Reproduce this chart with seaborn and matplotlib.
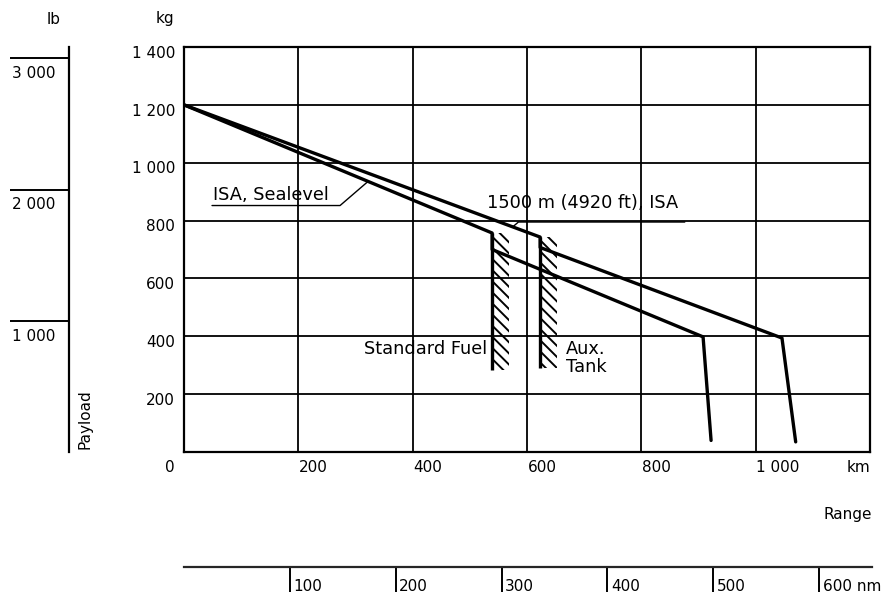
import numpy as np
import pandas as pd
import seaborn as sns
import matplotlib.pyplot as plt
from matplotlib.transforms import offset_copy

KG_PER_LB = 0.45359
KM_PER_NM = 1.852

# payload-range curves (km, kg)
sea_km = [0, 539, 539, 908, 922]
sea_kg = [1200, 757, 700, 398, 40]
alt_km = [0, 623, 623, 1046, 1070]
alt_kg = [1200, 743, 707, 394, 35]

# fuel limits (km) and hatch extents (kg)
std_km, std_top, std_bot = 539, 757, 283
aux_km, aux_top, aux_bot = 623, 743, 290

km_ticks = [0, 200, 400, 600, 800, 1000, 1200]
km_labels = ['0', '200', '400', '600', '800', '1 000', 'km']
kg_ticks = [200, 400, 600, 800, 1000, 1200, 1400]
kg_labels = ['200', '400', '600', '800', '1 000', '1 200', '1 400']
lb_ticks = [1000, 2000, 3000]
lb_labels = ['1 000', '2 000', '3 000']
nm_ticks = [100, 200, 300, 400, 500, 600]
nm_labels = ['100', '200', '300', '400', '500', '600 nm']

df = pd.concat([
    pd.DataFrame({'range': sea_km, 'payload': sea_kg, 'case': 'ISA, Sealevel'}),
    pd.DataFrame({'range': alt_km, 'payload': alt_kg, 'case': '1500 m'}),
])

sns.set_style('white')
plt.rcParams['font.family'] = ['DejaVu Sans']
plt.rcParams['text.color'] = 'black'
plt.rcParams['hatch.linewidth'] = 1.4

W, H = 895, 601
fig = plt.figure(figsize=(W / 100, H / 100), dpi=100)


def fx(px):
    return px / W


def fy(py):
    return 1 - py / H


TICK_FS = 11
NOTE_FS = 12.8

# main chart
ax = fig.add_axes([fx(184), fy(452), fx(870) - fx(184), fy(47) - fy(452)])
sns.lineplot(data=df, x='range', y='payload', hue='case', palette=['black', 'black'],
             estimator=None, sort=False, legend=False, lw=2.4, ax=ax)
ax.set_xlim(0, 1200)
ax.set_ylim(0, 1400)
ax.set_xticks(km_ticks)
ax.set_yticks([0] + kg_ticks)
ax.set_xticklabels([])
ax.set_yticklabels([])
ax.tick_params(length=0)
ax.grid(True, color='black', lw=1.3)
for s in ax.spines.values():
    s.set_color('black')
    s.set_linewidth(1.6)
ax.set_xlabel('')
ax.set_ylabel('')

# tick labels placed like the brochure
for v, t in zip(km_ticks, km_labels):
    if v == 0:
        tr = offset_copy(ax.get_xaxis_transform(), fig=fig, x=-6.5, y=-11.5, units='points')
        ax.text(v, 0, t, transform=tr, ha='right', va='center', fontsize=TICK_FS)
    else:
        tr = offset_copy(ax.get_xaxis_transform(), fig=fig, x=0.5, y=-11.5, units='points')
        ax.text(v, 0, t, transform=tr, ha='right' if t == 'km' else 'left',
                va='center', fontsize=TICK_FS)
for v, t in zip(kg_ticks, kg_labels):
    tr = offset_copy(ax.get_yaxis_transform(), fig=fig, x=-6.5, y=-4.5, units='points')
    ax.text(0, v, t, transform=tr, ha='right', va='center', fontsize=TICK_FS)

# fuel limit hatches
for x0, top, bot in [(std_km, std_top, std_bot), (aux_km, aux_top, aux_bot)]:
    ax.fill_betweenx([bot, top], x0, x0 + 30, facecolor='none', edgecolor='black',
                     hatch='\\\\\\', linewidth=0)
    ax.plot([x0, x0], [bot, top], color='black', lw=2.4, solid_capstyle='butt')

# annotations with leaders
sea_x = 322
sea_y = np.interp(sea_x, sea_km[:2], sea_kg[:2])
ax.text(51, 888, 'ISA, Sealevel', ha='left', va='center', fontsize=NOTE_FS)
ax.plot([49, 273, sea_x], [852, 852, sea_y], color='black', lw=1.0)

alt_x = 575
alt_y = np.interp(alt_x, alt_km[:2], alt_kg[:2])
ax.text(530, 860, '1500 m (4920 ft), ISA', ha='left', va='center', fontsize=NOTE_FS)
ax.plot([alt_x, 585, 876], [alt_y, 795, 795], color='black', lw=1.0)

ax.text(530, 357, 'Standard Fuel', ha='right', va='center', fontsize=NOTE_FS)
ax.text(668, 324, 'Aux.\nTank', ha='left', va='center', fontsize=NOTE_FS, linespacing=1.0)

# lb scale on the left
ax_lb = fig.add_axes([fx(10), fy(452), fx(69) - fx(10), fy(47) - fy(452)])
ax_lb.set_xlim(0, 1)
ax_lb.set_ylim(0, 1400 / KG_PER_LB)
ax_lb.set_xticks([])
ax_lb.set_yticks([])
for side in ['top', 'left', 'bottom']:
    ax_lb.spines[side].set_visible(False)
ax_lb.spines['right'].set_linewidth(1.6)
ax_lb.spines['right'].set_color('black')
for v, t in zip(lb_ticks, lb_labels):
    ax_lb.axhline(v, color='black', lw=1.4)
    tr = offset_copy(ax_lb.transData, fig=fig, x=0, y=-11, units='points')
    ax_lb.text(0.04, v, t, transform=tr, ha='left', va='center', fontsize=TICK_FS)
ax_lb.patch.set_alpha(0)

# nm scale at the bottom
ax_nm = fig.add_axes([fx(184), fy(567), fx(872) - fx(184), 0.0001])
ax_nm.set_xlim(0, 1200 / KM_PER_NM * (872 - 184) / (870 - 184))
ax_nm.set_yticks([])
for side in ['top', 'left', 'right']:
    ax_nm.spines[side].set_visible(False)
ax_nm.spines['bottom'].set_linewidth(1.6)
ax_nm.set_xticks(nm_ticks)
ax_nm.tick_params(axis='x', direction='out', length=18, width=1.4, color='black',
                  labelbottom=False, bottom=True)
ax_nm.patch.set_alpha(0)
for v, t in zip(nm_ticks, nm_labels):
    tr = offset_copy(ax_nm.get_xaxis_transform(), fig=fig, x=2.5, y=-14, units='points')
    ax_nm.text(v, 0, t, transform=tr, ha='left', va='center', fontsize=TICK_FS)

# axis titles
fig.text(fx(54), fy(19), 'lb', ha='center', va='center', fontsize=TICK_FS)
fig.text(fx(165), fy(19), 'kg', ha='center', va='center', fontsize=TICK_FS)
fig.text(fx(85), fy(449), 'Payload', rotation=90, ha='center', va='bottom', fontsize=TICK_FS)
fig.text(fx(872), fy(515), 'Range', ha='right', va='center', fontsize=TICK_FS)

fig.savefig('out.png', dpi=100)
